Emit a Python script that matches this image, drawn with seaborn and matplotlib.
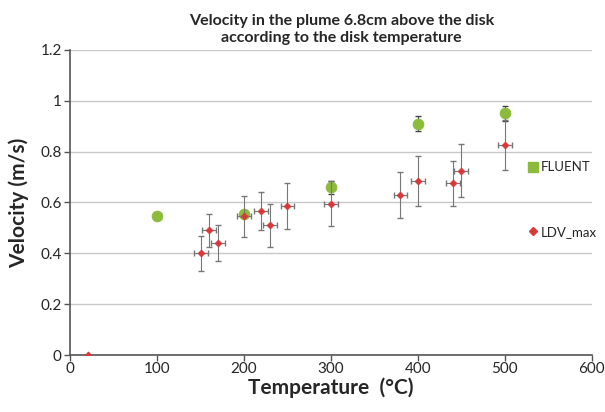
import matplotlib
matplotlib.use("Agg")
import matplotlib.pyplot as plt
import seaborn as sns
import numpy as np
import pandas as pd
from matplotlib.lines import Line2D

# LDV measurements
ldv_temp = [20, 150, 160, 170, 200, 220, 230, 250, 300, 380, 400, 440, 450, 500]
ldv_vel = [0.0, 0.40, 0.49, 0.44, 0.545, 0.565, 0.51, 0.585, 0.595, 0.63, 0.685, 0.675, 0.725, 0.825]
ldv_verr = [0.0, 0.07, 0.065, 0.07, 0.08, 0.075, 0.083, 0.09, 0.088, 0.09, 0.098, 0.09, 0.105, 0.098]
ldv_terr = [0, 8, 8, 8, 8, 8, 8, 8, 8, 8, 8, 8, 8, 8]

# FLUENT simulation
fl_temp = [100, 200, 300, 400, 500]
fl_vel = [0.548, 0.555, 0.66, 0.91, 0.95]
fl_verr = [0.012, 0.012, 0.025, 0.03, 0.03]

green = "#8CBB3C"
red = "#D8383A"

sns.set_style("white")
plt.rcParams['font.family'] = ['Lato', 'DejaVu Sans']

fig = plt.figure(figsize=(6.05, 4.12), dpi=100)
ax = fig.add_axes([0.116, 0.138, 0.862, 0.741])

ldv = pd.DataFrame({"T": ldv_temp, "V": ldv_vel})
fl = pd.DataFrame({"T": fl_temp, "V": fl_vel})

ax.errorbar(fl_temp, fl_vel, yerr=fl_verr, fmt="none", ecolor="#444444",
            elinewidth=0.8, capsize=2, zorder=2)
sns.scatterplot(data=fl, x="T", y="V", ax=ax, color=green, marker="o", s=60,
                edgecolor=green, zorder=3)
ax.errorbar(ldv_temp, ldv_vel, yerr=ldv_verr, xerr=ldv_terr, fmt="none",
            ecolor="#777777", elinewidth=0.8, capsize=2, zorder=4)
sns.scatterplot(data=ldv, x="T", y="V", ax=ax, color=red, marker="D", s=14,
                edgecolor=red, zorder=5)

ax.set_xlim(0, 600)
ax.set_ylim(0, 1.2)
ax.set_xticks(range(0, 601, 100))
ax.set_yticks([0, 0.2, 0.4, 0.6, 0.8, 1.0, 1.2])
ax.set_yticklabels(["0", "0.2", "0.4", "0.6", "0.8", "1", "1.2"])
ax.yaxis.grid(True, color="#C8C8C8", linewidth=1)
ax.set_axisbelow(True)
for s in ["top", "right"]:
    ax.spines[s].set_visible(False)
for s in ["left", "bottom"]:
    ax.spines[s].set_color("#555555")
    ax.spines[s].set_linewidth(1.2)
ax.tick_params(axis="both", direction="out", length=4, width=1, color="#555555",
               labelsize=11, pad=2, left=True, bottom=True)
ax.tick_params(axis="x", pad=1)

ax.set_xlabel("Temperature  (°C)", fontsize=15, fontweight="bold", labelpad=1)
ax.set_ylabel("Velocity (m/s)", fontsize=15, fontweight="bold", labelpad=8)
ax.set_title("Velocity in the plume 6.8cm above the disk\naccording to the disk temperature",
             fontsize=11.5, fontweight="bold", pad=6, x=0.52)

h1 = Line2D([], [], marker="s", color=green, linestyle="none", markersize=7)
h2 = Line2D([], [], marker="D", color=red, linestyle="none", markersize=4)
leg = ax.legend([h1, h2], ["FLUENT", "LDV_max"], loc="upper left",
                bbox_to_anchor=(0.875, 0.635), frameon=False, fontsize=9.5,
                labelspacing=4.0, handletextpad=0.1, handlelength=1.0,
                borderpad=0, borderaxespad=0)

fig.savefig("out.png", dpi=100)
